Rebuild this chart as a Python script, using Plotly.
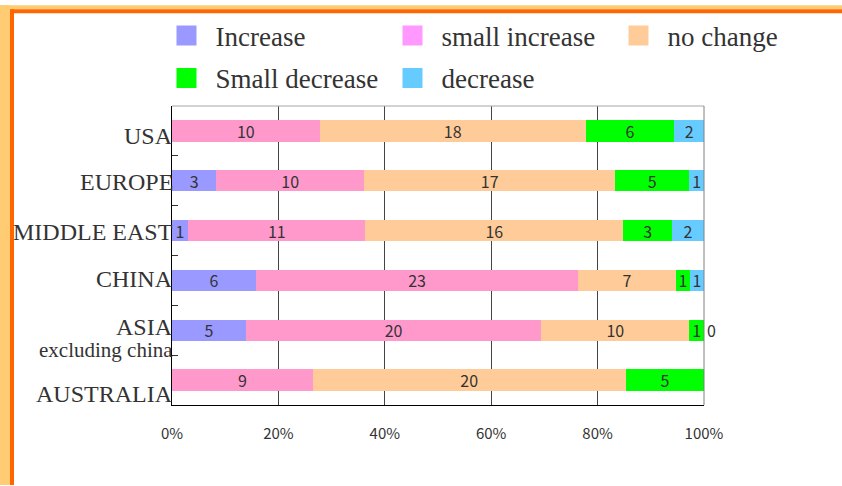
import plotly.graph_objects as go

# ---- data -------------------------------------------------------------
regions = ["USA", "EUROPE", "MIDDLE EAST", "CHINA", "ASIA", "AUSTRALIA"]
region_notes = {"ASIA": "excluding china"}

increase = [None, 3, 1, 6, 5, None]
small_increase = [10, 10, 11, 23, 20, 9]
no_change = [18, 17, 16, 7, 10, 20]
small_decrease = [6, 5, 3, 1, 1, 5]
decrease = [2, 1, 2, 1, 0, None]

series_names = ["Increase", "small increase", "no change", "Small decrease", "decrease"]
series_values = [increase, small_increase, no_change, small_decrease, decrease]

x_ticks = [0, 20, 40, 60, 80, 100]
x_tick_labels = [f"{t}%" for t in x_ticks]

# ---- styling ----------------------------------------------------------
colors = ["#9999FF", "#FF99CC", "#FFCC99", "#00FF00", "#66CCFF"]
swatch_colors = ["#9999FF", "#FF99FF", "#FFCC99", "#00FF00", "#66CCFF"]
legend_ids = ["legend", "legend", "legend", "legend2", "legend2"]
label_yshift = {"USA": -5, "EUROPE": -1, "MIDDLE EAST": -1, "CHINA": 1,
                "ASIA": 3, "AUSTRALIA": -14}
note_yshift = -20

W, H = 842, 486
L, R, T, B = 172, 704, 102, 405


def px_x(px):
    return (px - L) / (R - L)


def px_y(py):
    return 1 - (py - T) / (B - T)


fig = go.Figure()

for name, vals, color in zip(series_names, series_values, colors):
    text = ["" if v is None else str(v) for v in vals]
    positions = ["outside" if v == 0 else "inside" for v in vals]
    fig.add_trace(go.Bar(
        y=regions, x=vals, orientation="h", name=name,
        marker=dict(color=color, line=dict(width=0)),
        text=text, textposition=positions, textangle=0,
        insidetextanchor="middle", constraintext="none", cliponaxis=False,
        textfont=dict(family="Noto Sans CJK JP", size=16, color="#333333"),
        showlegend=False, hoverinfo="x+y+name",
    ))

# legend entries with larger square swatches
for name, color, lid in zip(series_names, swatch_colors, legend_ids):
    fig.add_trace(go.Scatter(
        x=[None], y=[None], mode="markers", name=name, legend=lid,
        marker=dict(symbol="square", size=16, color=color,
                    line=dict(color=color, width=4)),
        hoverinfo="skip",
    ))

annotations = []
for reg in regions:
    annotations.append(dict(
        x=0, xref="paper", xanchor="right", xshift=3,
        y=reg, yref="y", yanchor="middle", yshift=label_yshift[reg],
        text=reg, showarrow=False,
        font=dict(family="Liberation Serif", size=24, color="#333333"),
    ))
    if reg in region_notes:
        annotations.append(dict(
            x=0, xref="paper", xanchor="right", xshift=3,
            y=reg, yref="y", yanchor="middle", yshift=note_yshift,
            text=region_notes[reg], showarrow=False,
            font=dict(family="Liberation Serif", size=21, color="#333333"),
        ))

light_orange = "#FFCC73"
orange = "#FF6600"
shapes = [
    # page frame
    dict(type="rect", xref="paper", yref="paper", x0=px_x(0), x1=px_x(10),
         y0=px_y(H), y1=px_y(0), fillcolor=light_orange, line=dict(width=0)),
    dict(type="rect", xref="paper", yref="paper", x0=px_x(0), x1=px_x(W),
         y0=px_y(4), y1=px_y(0), fillcolor=light_orange, line=dict(width=0)),
    dict(type="rect", xref="paper", yref="paper", x0=px_x(10), x1=px_x(14),
         y0=px_y(H), y1=px_y(4), fillcolor=orange, line=dict(width=0)),
    dict(type="rect", xref="paper", yref="paper", x0=px_x(10), x1=px_x(W),
         y0=px_y(8), y1=px_y(4), fillcolor=orange, line=dict(width=0)),
    # plot-area border (top and right)
    dict(type="line", xref="paper", yref="paper", x0=0, x1=1, y0=1, y1=1,
         line=dict(color="#A6A6A6", width=1)),
    dict(type="line", xref="paper", yref="paper", x0=1, x1=1, y0=0, y1=1,
         line=dict(color="#808080", width=1)),
]

legend_font = dict(family="Liberation Serif", size=27, color="#333333")
legend_common = dict(
    orientation="h", xanchor="left", yanchor="middle", font=legend_font,
    entrywidth=163, entrywidthmode="pixels", itemwidth=48,
    traceorder="normal", bgcolor="rgba(0,0,0,0)",
)

fig.update_layout(
    width=W, height=H,
    margin=dict(l=L, r=W - R, t=T, b=H - B, pad=0),
    paper_bgcolor="white", plot_bgcolor="white",
    barmode="stack", barnorm="percent", bargap=0.57,
    xaxis=dict(
        range=[0, 100.001], tickvals=x_ticks, ticktext=x_tick_labels,
        showgrid=True, gridcolor="#444444", gridwidth=1, zeroline=False,
        showline=True, linecolor="black", linewidth=1, ticks="",
        tickfont=dict(family="Noto Sans CJK JP", size=15, color="#333333"),
        ticklabelstandoff=15, fixedrange=True,
    ),
    yaxis=dict(
        categoryorder="array", categoryarray=regions, autorange="reversed",
        showticklabels=False, ticks="inside", tickson="boundaries",
        ticklen=6, tickcolor="#333333", showline=True, linecolor="black",
        linewidth=1, showgrid=False, zeroline=False, fixedrange=True,
    ),
    legend=dict(x=px_x(157.5), y=px_y(31), **legend_common),
    legend2=dict(x=px_x(157.5), y=px_y(74), **legend_common),
    annotations=annotations,
    shapes=shapes,
    showlegend=True,
)

fig.write_html("out.html")
